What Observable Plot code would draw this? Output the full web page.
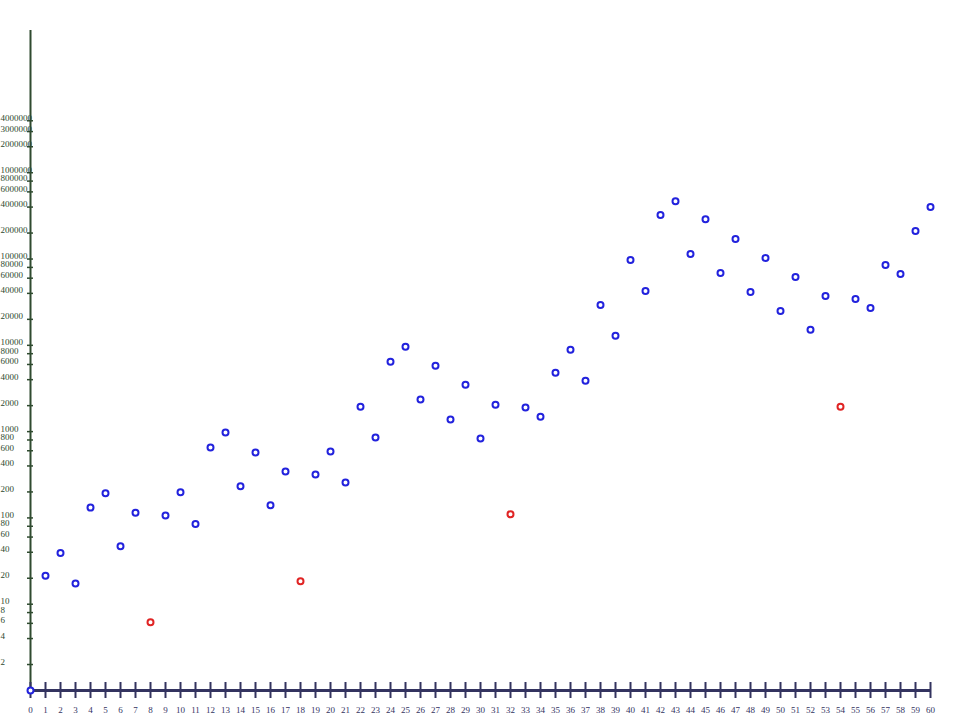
<!DOCTYPE html>
<html>
<head>
<meta charset="utf-8">
<script src="https://cdn.jsdelivr.net/npm/d3@7"></script>
<script src="https://cdn.jsdelivr.net/npm/@observablehq/plot@0.6"></script>
<style>
  html, body { margin: 0; padding: 0; background: #fff; }
  svg { display: block; }
</style>
</head>
<body>
<div id="chart"></div>
<script>
const xs = d3.range(0, 61);
const values = [0, 21.4, 39.3, 17.4, 131.6, 192.8, 47, 115, 6.17, 106.8, 199, 85.2, 655, 980, 232, 572, 140, 345, 18.5, 318, 588, 257, 1946, 854, 6460, 9630, 2350, 5810, 1379, 3500, 831, 2054, 110, 1902, 1492, 4814, 8896, 3892, 29390, 12880, 97500, 42730, 322800, 468000, 114400, 290000, 68970, 170400, 41460, 102900, 25020, 62040, 15110, 37410, 1948, 34520, 27160, 85440, 67160, 211400, 399600];
const outliers = [8, 18, 32, 54];
const yTicks = [2, 4, 6, 8, 10, 20, 40, 60, 80, 100, 200, 400, 600, 800, 1000, 2000, 4000, 6000, 8000, 10000, 20000, 40000, 60000, 80000, 100000, 200000, 400000, 600000, 800000, 1000000, 2000000, 3000000, 4000000];
const xTicks = d3.range(0, 61);

const data = xs.map((x, i) => ({x, v: values[i], out: outliers.includes(x)}));
const normal = data.filter(d => !d.out);
const odd = data.filter(d => d.out);

const yColor = "#2f4a2f";
const xColor = "#33335f";
const font = "Liberation Serif, Times New Roman, serif";

const chart = Plot.plot({
  width: 960,
  height: 720,
  marginLeft: 30,
  marginRight: 30,
  marginTop: 30,
  marginBottom: 30,
  style: {fontFamily: font, fontSize: "9px", background: "#fff"},
  x: {domain: [0, 60], axis: null},
  y: {type: "log", domain: [1, 4.45e7], clamp: true, axis: null},
  marks: [
    Plot.ruleX([0], {stroke: yColor, strokeWidth: 2}),
    Plot.ruleY(yTicks, {y: d => d, x1: 0, x2: 0, insetLeft: -3, insetRight: -3, stroke: yColor, strokeWidth: 1.5}),
    Plot.text(yTicks, {x: 0, y: d => d, text: d => String(d), dx: -30, textAnchor: "start", lineAnchor: "bottom", dy: 0, fill: yColor}),
    Plot.ruleY([1], {stroke: xColor, strokeWidth: 3}),
    Plot.ruleX(xTicks, {x: d => d, y1: 1, y2: 1, insetTop: -8, insetBottom: -8, stroke: xColor, strokeWidth: 2}),
    Plot.text(xTicks, {x: d => d, frameAnchor: "bottom", dy: 22, lineAnchor: "bottom", text: d => String(d), fill: xColor}),
    Plot.dot(normal, {x: "x", y: "v", r: 3, stroke: "#2222dd", strokeWidth: 2, fill: "#fff"}),
    Plot.dot(odd, {x: "x", y: "v", r: 3, stroke: "#e02424", strokeWidth: 2, fill: "#fff"})
  ]
});
document.getElementById("chart").appendChild(chart);
</script>
</body>
</html>
